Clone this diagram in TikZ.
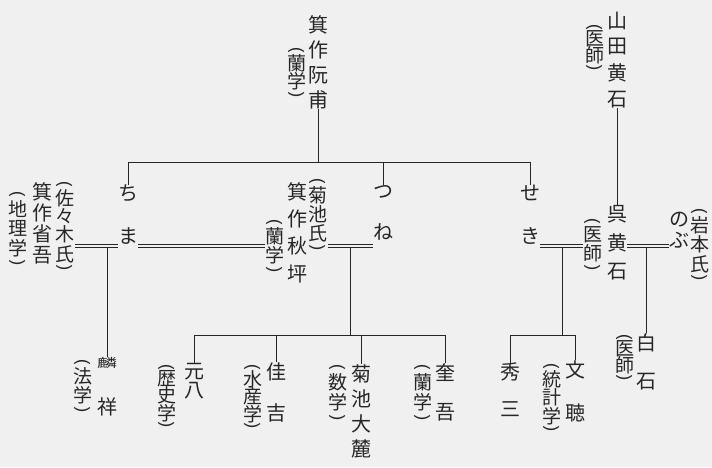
\documentclass[tikz,border=0pt]{standalone}
\usepackage{fontspec}
\usepackage{graphicx}
\newfontfamily\jp{Noto Sans CJK JP}
\definecolor{ink}{gray}{0.15}
\definecolor{paper}{gray}{0.94}
% 縦書き
\makeatletter
\newcommand\tate[2][2pt]{\vbox{\baselineskip=0pt\lineskiplimit=0pt\lineskip=#1\relax
  \@tfor\ta@c:=#2\do{\ta@one}}}
\def\ta@lp{(}\def\ta@rp{)}
\def\ta@one{\hbox to 1em{\hss
  \ifx\ta@c\ta@lp\rotatebox{-90}{\scalebox{1.1}[0.85]{(}}\else
  \ifx\ta@c\ta@rp\rotatebox{-90}{\scalebox{1.1}[0.85]{)}}\else\ta@c\fi\fi\hss}}
\makeatother
\tikzset{
  person/.style={anchor=north,inner sep=0pt,text=ink,font=\jp\fontsize{20}{20}\selectfont},
  note/.style={person,font=\jp\fontsize{19}{19}\selectfont},
  tie/.style={draw=ink,line width=0.6pt},
  wed/.style={draw=ink,line width=0.7pt,double=paper,double distance=2.4pt}
}

\begin{document}
\begin{tikzpicture}[x=1pt,y=-1pt]
		\fill[paper] (0,0) rectangle (712,467);
		\coordinate (bar1) at (0,162);
		\coordinate (bar2) at (0,335);
		\coordinate (wed) at (0,246);
		% 親
		\node[person] (genpo) at (318,15) {\tate[7pt]{箕作阮甫}};
		\node[note] (genpoP) at (297,46) {\tate[1pt]{(蘭学)}};
		\node[person] (kosekiY) at (617,12) {\tate[8.5pt]{山田黄石}};
		\node[note] (kosekiYP) at (595,23) {\tate[0pt]{(医師)}};
		% 子
		\node[person] (chima) at (128,185) {\tate[25pt]{ちま}};
		\node[person] (tsune) at (383,185) {\tate[25pt]{つね}};
		\node[person] (seki) at (530,185) {\tate[27pt]{せき}};
		\node[person] (shogo) at (42,182) {\tate[3pt]{箕作省吾}};
		\node[note] (shogoP1) at (65,180) {\tate[2pt]{(佐々木氏)}};
		\node[note] (shogoP2) at (18,190) {\tate[3pt]{(地理学)}};
		\node[person] (shusei) at (297,182) {\tate[9pt]{箕作秋坪}};
		\node[note] (shuseiP1) at (318,177) {\tate[2pt]{(菊池氏)}};
		\node[note] (shuseiP2) at (275,218) {\tate[2pt]{(蘭学)}};
		\node[person] (kosekiK) at (617,205) {\tate[11pt]{呉黄石}};
		\node[note] (kosekiKP) at (593,217) {\tate[2pt]{(医師)}};
		\node[person] (nobu) at (679,212) {\tate[5pt]{のぶ}};
		\node[note] (nobuP) at (700,207) {\tate[2pt]{(岩本氏)}};
		% 孫
		\node[person] (rinsho) at (107,357) {\tate[29pt]{{\scalebox{1}[0.6]{麟}}祥}};
		\node[note] (rinshoP) at (83,358) {\tate[2pt]{(法学)}};
		\node[person] (genpachi) at (194,363) {\tate[2pt]{元八}};
		\node[note] (genpachiP) at (167,363) {\tate[0pt]{(歴史学)}};
		\node[person] (kakichi) at (276,362) {\tate[23pt]{佳吉}};
		\node[note] (kakichiP) at (253,363) {\tate[0pt]{(水産学)}};
		\node[person] (dairoku) at (361,364) {\tate[7pt]{菊池大麓}};
		\node[note] (dairokuP) at (338,363) {\tate[3pt]{(数学)}};
		\node[person] (keigo) at (445,363) {\tate[22pt]{奎吾}};
		\node[note] (keigoP) at (423,363) {\tate[3pt]{(蘭学)}};
		\node[person] (hidezo) at (510,363) {\tate[20pt]{秀三}};
		\node[person] (bunsou) at (575,360) {\tate[25pt]{文聴}};
		\node[note] (bunsouP) at (552,362) {\tate[1pt]{(統計学)}};
		\node[person] (hakuseki) at (646,333) {\tate[22pt]{白石}};
		\node[note] (hakusekiP) at (625,333) {\tate[0pt]{(医師)}};
		% 親子
		\draw[tie] (genpo.south) -- (genpo.south |- bar1);
		\draw[tie] (chima.north) -- (chima.north |- bar1) -- (seki.north |- bar1) -- (seki.north);
		\draw[tie] (tsune.north) -- (tsune.north |- bar1);
		\draw[tie] (kosekiY.south) -- (kosekiK.north);
		\draw[tie] (rinsho.north |- wed) -- (rinsho.north);
		\coordinate (kiku) at (350,246);
		\draw[tie] (kiku) -- (kiku |- bar2);
		\draw[tie] (genpachi.north) -- (genpachi.north |- bar2) -- (keigo.north |- bar2) -- (keigo.north);
		\draw[tie] (kakichi.north) -- (kakichi.north |- bar2);
		\draw[tie] (dairoku.north) -- (dairoku.north |- bar2);
		\coordinate (kure) at (562,246);
		\draw[tie] (kure) -- (kure |- bar2);
		\draw[tie] (hidezo.north) -- (hidezo.north |- bar2) -- (bunsou.north |- bar2) -- (bunsou.north);
		\draw[tie] (hakuseki.north |- wed) -- (hakuseki.north);
		% 婚姻
		\draw[wed] (shogoP1.east |- wed) -- (chima.west |- wed);
		\draw[wed] (chima.east |- wed) -- (shuseiP2.west |- wed);
		\draw[wed] (shuseiP1.east |- wed) -- (tsune.west |- wed);
		\draw[wed] (seki.east |- wed) -- (kosekiKP.west |- wed);
		\draw[wed] (kosekiK.east |- wed) -- (nobu.west |- wed);
	\end{tikzpicture}
\end{document}
